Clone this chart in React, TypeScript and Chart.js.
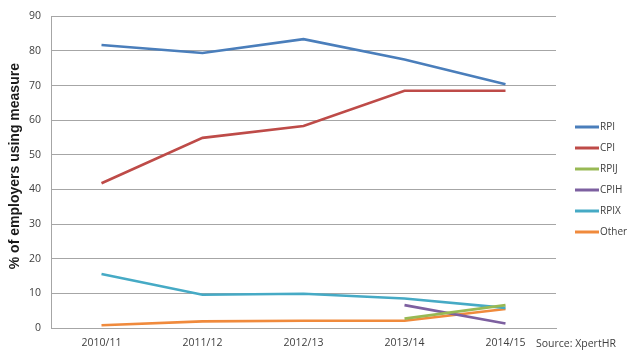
import React, { useEffect, useRef } from "react";
import { Chart, registerables } from "chart.js";

Chart.register(...registerables);

const years = ["2010/11", "2011/12", "2012/13", "2013/14", "2014/15"];
const rpi = [81.7, 79.4, 83.4, 77.5, 70.4];
const cpi = [41.8, 54.9, 58.3, 68.5, 68.5];
const rpij = [null, null, null, 2.7, 6.6];
const cpih = [null, null, null, 6.6, 1.3];
const rpix = [15.6, 9.6, 9.9, 8.5, 5.8];
const other = [0.8, 1.9, 2.1, 2.1, 5.5];
const seriesNames = ["RPI", "CPI", "RPIJ", "CPIH", "RPIX", "Other"];
const seriesColors = ["#4a7ebb", "#be4b48", "#98b954", "#7d60a0", "#46aac5", "#f08a3c"];
const yTitle = "% of employers using measure";
const sourceText = "Source: XpertHR";
const yMin = 0;
const yMax = 90;
const yStep = 10;

const TICK_FONT = "'Open Sans', 'Noto Sans', sans-serif";

const overlay = {
  id: "overlay",
  afterDraw(chart: any) {
    const ctx = chart.ctx;
    const area = chart.chartArea;
    // y axis title
    ctx.save();
    ctx.translate(15, (area.top + area.bottom) / 2 - 6);
    ctx.rotate(-Math.PI / 2);
    ctx.font = "bold 14px 'Liberation Sans', Arial, sans-serif";
    ctx.fillStyle = "#1a1a1a";
    ctx.textAlign = "center";
    ctx.textBaseline = "middle";
    ctx.fillText(yTitle, 0, 0);
    ctx.restore();

    // legend
    ctx.save();
    const lx = area.right + 19;
    const ly0 = 127;
    chart.data.datasets.forEach((ds: any, i: number) => {
      const y = ly0 + i * 21;
      ctx.strokeStyle = ds.borderColor;
      ctx.lineWidth = 3;
      ctx.beginPath();
      ctx.moveTo(lx, y);
      ctx.lineTo(lx + 24, y);
      ctx.stroke();
      ctx.font = "10px " + TICK_FONT;
      ctx.fillStyle = "#404040";
      ctx.textAlign = "left";
      ctx.textBaseline = "middle";
      ctx.fillText(ds.label, lx + 25, y + 0.5);
    });
    // source
    ctx.font = "10.5px " + TICK_FONT;
    ctx.fillStyle = "#404040";
    ctx.textAlign = "left";
    ctx.textBaseline = "middle";
    ctx.fillText(sourceText, 536, 344);
    ctx.restore();
  },
};

export default function App() {
  const ref = useRef<HTMLCanvasElement | null>(null);
  useEffect(() => {
    if (!ref.current) return;
    const series = [rpi, cpi, rpij, cpih, rpix, other];
    const chart = new Chart(ref.current, {
      type: "line",
      data: {
        labels: years,
        datasets: series.map((d, i) => ({
          label: seriesNames[i],
          data: d,
          borderColor: seriesColors[i],
          backgroundColor: seriesColors[i],
          borderWidth: 2.6,
          pointRadius: 0,
          tension: 0,
          fill: false,
        })),
      },
      options: {
        responsive: false,
        animation: false,
        layout: { padding: { top: 13, right: 79, left: 0, bottom: 0 } },
        plugins: {
          legend: { display: false },
          tooltip: { enabled: false },
        },
        scales: {
          x: {
            offset: true,
            grid: { display: false, drawTicks: false },
            border: { display: true, color: "#a6a6a6", width: 1 },
            ticks: {
              padding: 9,
              color: "#404040",
              font: { family: TICK_FONT, size: 10.5 },
              maxRotation: 0,
            },
            afterFit: (s: any) => {
              s.height = 29;
            },
          },
          y: {
            min: yMin,
            max: yMax,
            grid: { color: "#a6a6a6", drawTicks: false, lineWidth: 1 },
            border: { display: true, color: "#a6a6a6", width: 1 },
            ticks: {
              stepSize: yStep,
              padding: 10,
              color: "#404040",
              font: { family: TICK_FONT, size: 10.5 },
            },
            afterFit: (s: any) => {
              s.width = 51;
            },
          },
        },
      },
      plugins: [overlay],
    });
    return () => chart.destroy();
  }, []);
  return (
    <div style={{ position: "fixed", left: 0, top: 0, width: 635, height: 357, background: "#fff" }}>
      <canvas ref={ref} width={635} height={357} />
    </div>
  );
}
